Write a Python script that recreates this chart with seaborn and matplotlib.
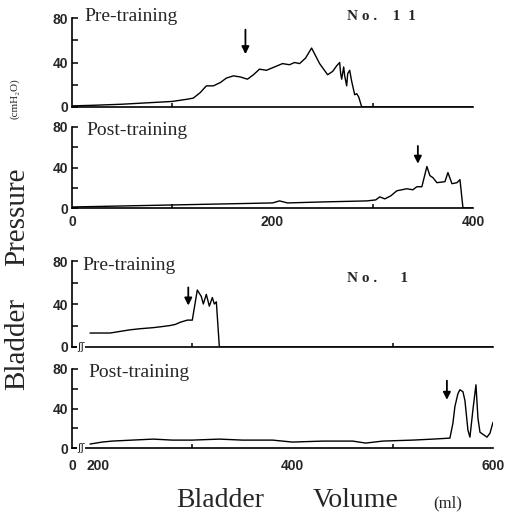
import numpy as np
import pandas as pd
import matplotlib
matplotlib.use("Agg")
import matplotlib.pyplot as plt
import seaborn as sns

# ---------------- data ----------------
# Case No. 11, pre-training
vol_11_pre = [0, 20, 50, 80, 100, 115, 121, 128, 134, 141, 148, 154, 161, 168, 175, 181,
              187, 194, 202, 210, 217, 222, 227, 233, 239, 243, 247, 251, 255, 260, 264,
              267, 268, 269, 271, 272, 274, 275, 277, 279, 282, 284, 286, 288, 289, 400]
prs_11_pre = [1, 1.5, 2.5, 4, 5, 7, 8, 13, 19, 19, 22, 26, 28, 27, 25, 29,
              34, 33, 36, 39, 38, 40, 39, 44, 53, 46, 39, 34, 29, 32, 37,
              40, 30, 25, 36, 28, 19, 30, 33, 23, 11, 12, 9, 3, 0, 0]
# Case No. 11, post-training
vol_11_post = [0, 50, 100, 150, 200, 207, 215, 250, 294, 303, 307, 312, 318, 324, 334,
               340, 344, 349, 354, 357, 360, 364, 372, 375, 379, 384, 387, 390, 400]
prs_11_post = [1, 2, 3, 4, 5, 7, 5, 6, 7, 8, 11, 9, 12, 17, 19,
               18, 21, 21, 41, 32, 30, 25, 26, 35, 24, 25, 28, 0, 0]
# Case No. 1, pre-training
vol_1_pre = [198, 205, 218, 238, 248, 261, 270, 278, 283, 288, 295, 300, 305, 309, 311,
             314, 317, 320, 322, 324, 327, 600]
prs_1_pre = [13, 13, 13, 16, 17, 18, 19, 20, 21, 23, 25, 25, 53, 47, 40,
             49, 38, 46, 40, 42, 0, 0]
# Case No. 1, post-training
vol_1_post = [198, 210, 220, 240, 261, 280, 300, 327, 350, 380, 400, 430, 460, 473, 490,
              520, 540, 557, 560, 562, 565, 567, 570, 572, 575, 577, 580, 583, 585, 587,
              594, 597, 600]
prs_1_post = [4, 6, 7, 8, 9, 8, 8, 9, 8, 8, 6, 7, 7, 5, 7,
              8, 9, 10, 25, 42, 55, 59, 57, 48, 18, 11, 39, 64, 30, 16,
              11, 15, 26]

# arrows (volume, pressure of tail, pressure of tip)
arrow_vol = [173, 345, 296, 554]
arrow_tail = [72, 64, 58, 71]
arrow_tip = [45, 41, 36, 46]

panel_titles = ["Pre-training", "Post-training", "Pre-training", "Post-training"]
case_labels = ["N o .    1  1", "N o .      1"]
y_ticks = [0, 40, 80]
y_minor = [20, 60]

# ---------------- figure ----------------
sns.set_theme(style="ticks")
plt.rcParams["font.family"] = ["Liberation Serif", "DejaVu Serif"]

W, H = 507, 514
fig = plt.figure(figsize=(W / 100, H / 100), dpi=100)


def rect(x0, x1, y0, y80):
    return [x0 / W, 1 - y0 / H, (x1 - x0) / W, (y0 - y80) / H]


panels = [
    dict(v=vol_11_pre, p=prs_11_pre, r=rect(72, 473, 107, 18), xlim=(0, 400),
         major=[0, 200, 400], labels=None, minor=[100, 200, 300, 400], pad=5, brk=False),
    dict(v=vol_11_post, p=prs_11_post, r=rect(72, 473, 208, 127), xlim=(0, 400),
         major=[0, 200, 400], labels=["0", "200", "400"], minor=[100, 200, 300, 400], pad=5, brk=False),
    dict(v=vol_1_pre, p=prs_1_pre, r=rect(72, 493, 347, 261), xlim=(180, 600),
         major=[180, 206, 400, 600], labels=None, minor=[300, 400, 500, 600], pad=8, brk=True),
    dict(v=vol_1_post, p=prs_1_post, r=rect(72, 493, 448, 369), xlim=(180, 600),
         major=[180, 206, 400, 600], labels=["0", "200", "400", "600"], minor=[300, 400, 500, 600], pad=8, brk=True),
]

for i, pn in enumerate(panels):
    ax = fig.add_axes(pn["r"])
    df = pd.DataFrame({"volume": pn["v"], "pressure": pn["p"]})
    sns.lineplot(data=df, x="volume", y="pressure", ax=ax, color="black",
                 lw=1.0, sort=False, estimator=None)
    ax.set_xlim(*pn["xlim"])
    ax.set_ylim(0, 80)
    ax.set_xlabel("")
    ax.set_ylabel("")
    for s in ("top", "right"):
        ax.spines[s].set_visible(False)
    for s in ("left", "bottom"):
        ax.spines[s].set_linewidth(1.2)
        ax.spines[s].set_color("black")
    ax.patch.set_alpha(0)

    ax.set_yticks(y_ticks)
    ax.set_yticks(y_minor, minor=True)
    ax.set_xticks(pn["major"])
    if pn["labels"] is None:
        ax.set_xticklabels([""] * len(pn["major"]))
    else:
        ax.set_xticklabels(pn["labels"])
    ax.set_xticks(pn["minor"], minor=True)
    ax.tick_params(axis="y", which="both", direction="in", length=4, width=1.1,
                   color="black", pad=3, labelsize=10, labelfontfamily="Liberation Sans")
    ax.tick_params(axis="x", which="major", length=0, pad=pn["pad"], labelsize=10,
                   labelfontfamily="Liberation Sans")
    ax.tick_params(axis="x", which="minor", direction="in", length=3, width=1.1, color="black")
    for lab in ax.get_xticklabels() + ax.get_yticklabels():
        lab.set_fontweight("bold")

    if pn["brk"]:
        ax.text(189, 0, "ʃʃ", ha="center", va="center", fontsize=8,
                family=["DejaVu Sans"], bbox=dict(fc="white", ec="none", pad=0.3))

    ax.annotate("", xy=(arrow_vol[i], arrow_tip[i]), xytext=(arrow_vol[i], arrow_tail[i]),
                arrowprops=dict(arrowstyle="-|>", color="black", lw=1.3, mutation_scale=11))

# panel titles (figure pixel positions, baseline)
title_pos = [(84, 21), (86, 135), (82, 270), (88, 377)]
for (x, y), t in zip(title_pos, panel_titles):
    fig.text(x / W, 1 - y / H, t, ha="left", va="baseline", fontsize=14)

case_pos = [(347, 20), (347, 282)]
for (x, y), t in zip(case_pos, case_labels):
    fig.text(x / W, 1 - y / H, t, ha="left", va="baseline", fontsize=11, weight="bold")

# y-axis label pieces
fig.text(15 / W, 1 - 99 / H, "(cmH₂O)", rotation=90, ha="center", va="center", fontsize=8)
fig.text(17 / W, 1 - 217 / H, "Pressure", rotation=90, ha="center", va="center", fontsize=21)
fig.text(17 / W, 1 - 344 / H, "Bladder", rotation=90, ha="center", va="center", fontsize=21)

# x-axis label pieces
fig.text(220 / W, 1 - 507 / H, "Bladder", ha="center", va="baseline", fontsize=20)
fig.text(356 / W, 1 - 507 / H, "Volume", ha="center", va="baseline", fontsize=20)
fig.text(448 / W, 1 - 507 / H, "(ml)", ha="center", va="baseline", fontsize=12)

fig.savefig("out.png", dpi=100)
